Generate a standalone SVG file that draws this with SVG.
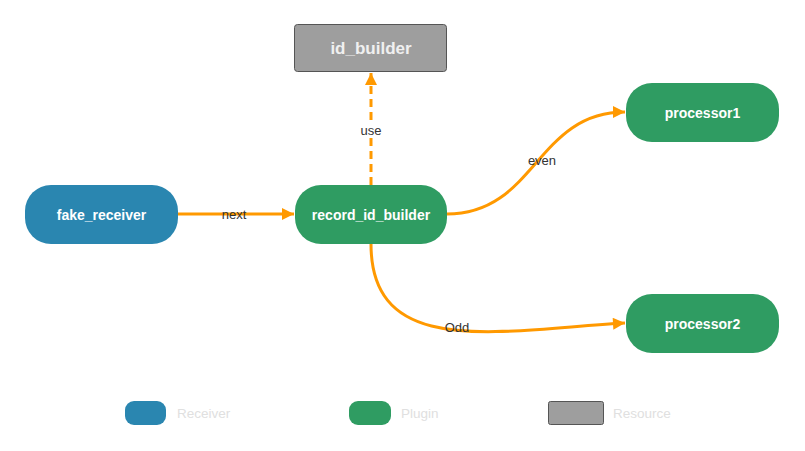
<svg xmlns="http://www.w3.org/2000/svg" width="805" height="451" viewBox="0 0 805 451">
<style>
.node text{font-family:"Liberation Sans",Arial,sans-serif;font-weight:bold;font-size:14px;fill:#fff;text-anchor:middle}
.recv{fill:#2a86b0}
.plug{fill:#2f9c62}
.res{fill:#9e9e9e;stroke:#555;stroke-width:1}
.edge{fill:none;stroke:#ff9900;stroke-width:3}
.dash{stroke-dasharray:8,5}
.lbl{font-family:"Liberation Sans",Arial,sans-serif;font-size:13px;fill:#333;text-anchor:middle}
.lbg{fill:#fff}
.leg{font-family:"Liberation Sans",Arial,sans-serif;font-size:13.5px;fill:#e0e0e0}
</style>
<defs>
<marker id="arr" viewBox="0 0 10 10" refX="10" refY="5" markerWidth="4.7" markerHeight="4" markerUnits="strokeWidth" orient="auto">
<path d="M0,0 L10,5 L0,10 z" fill="#ff9900"/>
</marker>
</defs>
<rect width="805" height="451" fill="#fff"/>
<g id="connectors">
<path class="edge" d="M178,214 L294,214" marker-end="url(#arr)"/>
<path class="edge dash" d="M371,185 L371,73" marker-end="url(#arr)"/>
<path class="edge" d="M447,214 C536,214 536,112 625,112" marker-end="url(#arr)"/>
<path class="edge" d="M371,244 C371,360 500,330 625,323" marker-end="url(#arr)"/>
<text class="lbl" x="234" y="219">next</text>
<rect class="lbg" x="357" y="123" width="28" height="15"/>
<text class="lbl" x="371" y="135">use</text>
<text class="lbl" x="542" y="165">even</text>
<text class="lbl" x="457" y="332">Odd</text>
</g>
<g id="id_builder" class="node">
<rect class="res" x="294.5" y="24.5" width="152" height="47" rx="3"/>
<text x="371" y="54" style="font-size:17px;fill:#f0f0f0">id_builder</text>
</g>
<g id="fake_receiver" class="node">
<rect class="recv" x="25" y="185" width="153" height="59" rx="26"/>
<text x="101.5" y="219.5">fake_receiver</text>
</g>
<g id="record_id_builder" class="node">
<rect class="plug" x="295" y="185" width="152" height="59" rx="26"/>
<text x="371" y="219.5">record_id_builder</text>
</g>
<g id="processor1" class="node">
<rect class="plug" x="626" y="83" width="153" height="59" rx="26"/>
<text x="702.5" y="117.5">processor1</text>
</g>
<g id="processor2" class="node">
<rect class="plug" x="626" y="294" width="153" height="59" rx="26"/>
<text x="702.5" y="328.5">processor2</text>
</g>
<g id="legend">
<rect class="recv" x="125" y="401" width="41" height="24" rx="9"/>
<text class="leg" x="177" y="418">Receiver</text>
<rect class="plug" x="349" y="401" width="42" height="24" rx="9"/>
<text class="leg" x="401" y="418">Plugin</text>
<rect class="res" x="548.5" y="401.5" width="55" height="23" rx="2"/>
<text class="leg" x="613" y="418">Resource</text>
</g>
</svg>
